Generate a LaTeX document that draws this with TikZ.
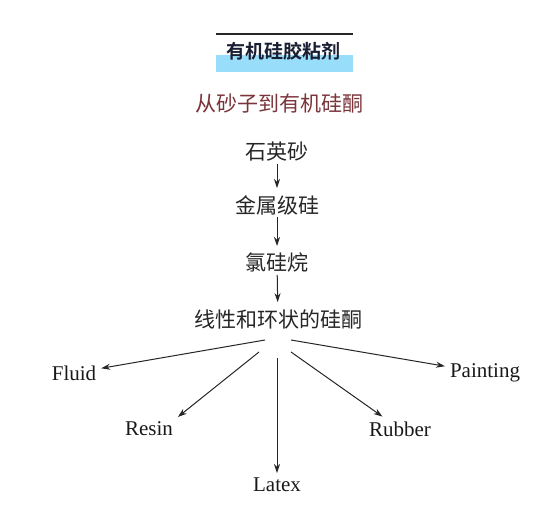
\documentclass[tikz,border=0pt]{standalone}
\usepackage{fontspec}
\setmainfont{Liberation Serif}
\newfontfamily\cjk{Noto Sans CJK SC}[BoldFont={Noto Sans CJK SC Bold}]
\usepackage{tikz}
\usetikzlibrary{positioning,calc,arrows.meta}
\definecolor{bandblue}{RGB}{152,222,250}
\definecolor{subred}{RGB}{122,52,58}
\definecolor{titleink}{RGB}{25,30,50}

\begin{document}
\begin{tikzpicture}[x=1pt,y=-1pt,
    zh/.style={font=\cjk\fontsize{21}{21}\selectfont,inner sep=0pt,text=black!85},
    en/.style={font=\fontsize{21}{21}\selectfont,inner sep=2pt,outer sep=3pt,text=black!90},
    arr/.style={-{Stealth[length=9pt,width=6pt]},line width=1pt,black!85}]
  \useasboundingbox[fill=white] (0,0) rectangle (554,518);
  % title bar
  \draw[line width=2pt,black!85] (216,34) -- (353,34);
  \fill[bandblue] (216,55) rectangle (353,72);
  \node[font=\cjk\bfseries\fontsize{19}{19}\selectfont,text=titleink] (title) at (283,51) {有机硅胶粘剂};
  \node[zh,font=\cjk\fontsize{21}{21}\selectfont,text=subred] (sub) at (279,104) {从砂子到有机硅酮};
  % chain
  \node[zh] (quartz) at (277,152) {石英砂};
  \node[zh] (metal) at (277,205) {金属级硅};
  \node[zh] (chloro) at (277,263) {氯硅烷};
  \node[zh] (siloxane) at (278,319) {线性和环状的硅酮};
  \foreach \a/\b in {quartz/metal,metal/chloro,chloro/siloxane}{%
    \draw[arr,shorten <=2pt,shorten >=7pt] (\a) -- (\b);
  }
  % products
  \foreach \n/\x/\y/\txt in {fluid/74/373/Fluid,painting/485/373/Painting,resin/149/429/Resin,rubber/400/429/Rubber,latex/277/485/Latex}{%
    \node[en] (\n) at (\x,\y) {\txt};
  }
  \coordinate (sFluid) at (265,340);
  \coordinate (sPaint) at (291,340);
  \coordinate (sResin) at (259,352);
  \coordinate (sRubber) at (291,352);
  \coordinate (sLatex) at (277,358);
  \draw[arr] (sFluid) -- (fluid);
  \draw[arr] (sPaint) -- (painting);
  \draw[arr] (sResin) -- (resin.north east);
  \draw[arr] (sRubber) -- (rubber);
  \draw[arr] (sLatex) -- (latex);
\end{tikzpicture}
\end{document}
